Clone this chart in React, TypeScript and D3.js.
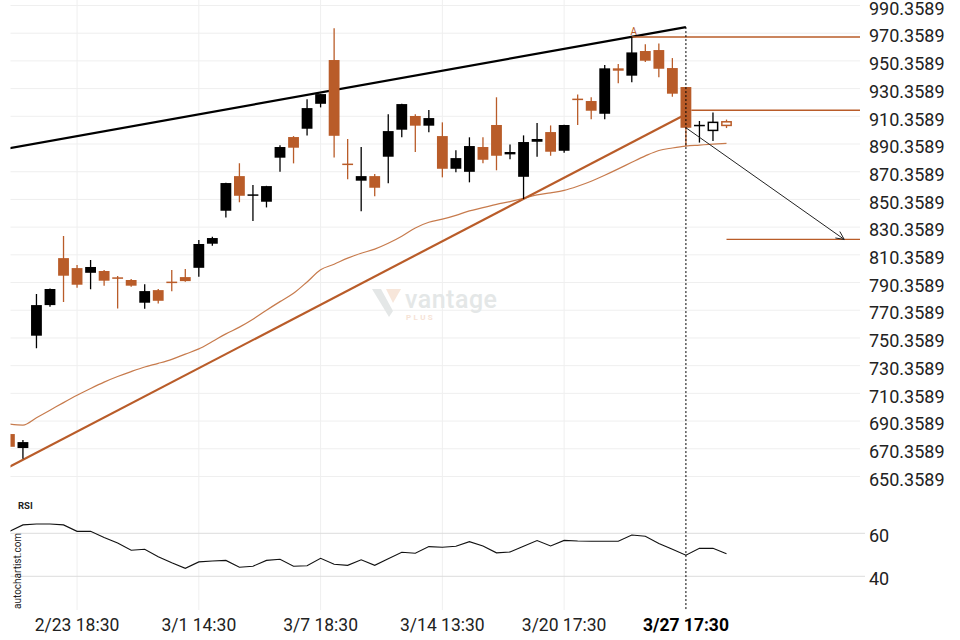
import * as d3 from "d3";

const TIME_LABELS = ["2/23 18:30", "3/1 14:30", "3/7 18:30", "3/14 13:30", "3/20 17:30", "3/27 17:30"];
const TIME_LABEL_INDEX = [5, 14, 23, 32, 41, 50];
const RSI_TICKS = [60, 40];

const OPEN = [
  681.0, 670.9, 752.0, 774.1, 808.0, 800.8, 797.4, 798.7, 793.8, 792.2,
  775.8, 784.9, 790.7, 794.3, 801.0, 818.4, 842.2, 867.2, 853.3, 848.7,
  880.5, 895.4, 901.4, 919.4, 951.0, 875.9, 863.9, 867.2, 881.2, 900.7,
  910.6, 903.6, 896.1, 872.5, 870.3, 888.2, 904.1, 882.9, 866.7, 892.0,
  899.0, 885.5, 922.8, 921.4, 912.2, 945.0, 939.7, 957.5, 958.2, 945.2,
  931.5, 903.5, 900.2, 906.4,
];
const HIGH = [
  681.5, 676.7, 782.1, 786.0, 823.9, 803.0, 806.6, 799.4, 795.1, 792.9,
  789.1, 785.7, 799.4, 800.1, 821.0, 823.4, 862.4, 876.4, 860.7, 860.2,
  889.4, 896.1, 922.6, 926.6, 973.9, 894.0, 888.2, 868.7, 911.8, 919.4,
  911.8, 914.9, 906.0, 885.8, 895.2, 895.2, 924.1, 890.1, 896.6, 905.5,
  903.8, 904.3, 926.2, 924.1, 947.4, 948.1, 967.6, 962.3, 963.0, 952.4,
  931.6, 907.0, 913.2, 908.0,
];
const LOW = [
  671.5, 663.2, 742.9, 772.9, 776.3, 786.6, 785.5, 788.1, 771.7, 787.3,
  771.4, 775.3, 784.0, 790.9, 794.5, 816.9, 837.4, 848.3, 834.8, 844.6,
  870.3, 876.4, 896.6, 916.8, 880.7, 864.9, 841.8, 852.6, 862.0, 895.2,
  884.6, 898.8, 866.3, 869.9, 862.7, 876.4, 871.4, 879.3, 850.6, 881.2,
  881.9, 884.1, 904.1, 908.2, 908.2, 934.2, 934.9, 949.5, 938.5, 924.5,
  888.9, 891.4, 892.5, 901.9,
];
const CLOSE = [
  671.8, 675.2, 774.1, 785.7, 795.3, 788.8, 801.6, 791.7, 793.4, 788.1,
  784.2, 777.2, 790.3, 791.4, 818.2, 822.5, 862.2, 853.0, 853.7, 860.0,
  888.2, 887.7, 916.3, 926.4, 896.3, 875.5, 867.2, 858.8, 899.7, 919.2,
  903.6, 909.1, 872.5, 880.2, 888.9, 879.0, 881.9, 884.6, 891.8, 894.0,
  884.8, 904.1, 922.4, 914.4, 945.0, 943.3, 956.5, 950.5, 944.7, 926.7,
  902.1, 903.9, 906.0, 903.8,
];
const MA = [
  688.2, 687.5, 692.8, 698.2, 703.7, 709.0, 713.9, 718.5, 722.5, 726.1,
  729.4, 732.0, 734.9, 738.7, 742.5, 747.8, 753.3, 758.2, 763.9, 770.4,
  776.6, 782.6, 790.8, 799.6, 803.6, 808.0, 811.5, 814.5, 818.7, 823.8,
  829.8, 833.9, 836.1, 838.9, 842.1, 844.4, 846.8, 848.8, 851.1, 853.6,
  855.1, 856.9, 859.9, 863.5, 867.8, 872.4, 877.2, 881.8, 885.7, 887.5,
  888.9, 889.6, 890.3, 890.9,
];
const RSI = [
  60.9, 63.9, 64.3, 64.3, 63.9, 60.9, 60.9, 58.1, 55.5, 52.1,
  52.6, 49.1, 46.3, 43.7, 46.7, 47.1, 47.4, 44.2, 44.7, 47.4,
  47.9, 44.7, 44.9, 48.4, 45.6, 45.1, 47.7, 45.1, 48.2, 51.2,
  50.7, 53.8, 53.5, 54.0, 56.1, 54.1, 50.9, 51.3, 54.0, 56.6,
  54.1, 56.7, 56.4, 56.3, 56.3, 56.3, 59.2, 58.6, 55.3, 52.6,
  49.8, 53.0, 53.0, 50.5,
];

// trend lines as [index, price]
const RESISTANCE: [number, number][] = [[0, 887.3], [50, 974.8]];
const SUPPORT: [number, number][] = [[0, 657.3], [50, 911.8]];
// horizontal levels: price and first index
const LEVEL_PRICE = [967.6, 914.7, 821.5];
const LEVEL_FROM = [46, 50.4, 53];
const FORECAST: [number, number][] = [[50, 902.1], [61.7, 821.5]];
const PATTERN_END = 50;
const HOLLOW_FROM = 52;

const ORANGE = "#b95c29";
const FONT = "Roboto, sans-serif";

export default function App() {
  const x = d3.scaleLinear().domain([0, 53]).range([9.4, 726.5]);
  const y = d3.scaleLinear().domain([650.3589, 990.3589]).range([476.5, 5.5]);
  const yr = d3.scaleLinear().domain([40, 60]).range([576.3, 533.3]);
  const bw = (x(1) - x(0)) * 0.8;
  const left = 10.5;
  const right = 860;

  const priceTicks = d3.range(18).map((i) => 650.3589 + i * 20);

  const maLine = d3
    .line<number>()
    .x((_, i) => x(i))
    .y((d) => y(d))
    .curve(d3.curveMonotoneX);
  const rsiLine = d3
    .line<number>()
    .x((_, i) => x(i))
    .y((d) => yr(d));
  const trend = d3
    .line<[number, number]>()
    .x((d) => x(d[0]))
    .y((d) => y(d[1]));

  const [a0, a1] = FORECAST;
  const ax0 = x(a0[0]), ay0 = y(a0[1]), ax1 = x(a1[0]), ay1 = y(a1[1]);
  const ang = Math.atan2(ay1 - ay0, ax1 - ax0);
  const head = 9;
  const hA = ang + Math.PI - 0.45;
  const hB = ang + Math.PI + 0.45;

  return (
    <svg
      width={960}
      height={640}
      style={{ position: "absolute", left: 0, top: 0, background: "#fff" }}
      fontFamily={FONT}
    >
      <defs>
        <clipPath id="plot">
          <rect x={left} y={0} width={right - left} height={490} />
        </clipPath>
        <clipPath id="rsi">
          <rect x={left} y={490} width={right - left} height={125} />
        </clipPath>
      </defs>

      {/* vertical grid */}
      {TIME_LABEL_INDEX.slice(0, -1).map((i) => (
        <line key={i} x1={x(i)} x2={x(i)} y1={0} y2={610} stroke="#efefef" strokeWidth={1} />
      ))}
      {/* horizontal grid */}
      {priceTicks.map((t) => (
        <line key={t} x1={left} x2={right} y1={y(t)} y2={y(t)} stroke="#efefef" strokeWidth={1} />
      ))}
      {RSI_TICKS.map((t) => (
        <line key={t} x1={left} x2={865} y1={yr(t)} y2={yr(t)} stroke="#dcdcdc" strokeWidth={1} />
      ))}

      {/* watermark */}
      <g>
        <polygon points="372,289 381,289 393,311 389,317" fill="#e4e7e7" />
        <polygon points="386,289 401,289 393,303" fill="#f7e6da" />
        <text x={405} y={308} fontSize={25} fontWeight={500} fill="#e4e7e7" letterSpacing={0.5}>
          vantage
        </text>
        <text x={406} y={320} fontSize={8} fontWeight={700} fill="#f6e3d6" letterSpacing={2.4}>
          PLUS
        </text>
      </g>

      <g clipPath="url(#plot)">
        <path d={maLine(MA) ?? ""} fill="none" stroke="#c77b4d" strokeWidth={1.2} />
        <path d={trend(SUPPORT) ?? ""} fill="none" stroke={ORANGE} strokeWidth={2.2} />
        <path d={trend(RESISTANCE) ?? ""} fill="none" stroke="#000" strokeWidth={2.2} />

        {LEVEL_PRICE.map((p, i) => (
          <line key={p} x1={x(LEVEL_FROM[i])} x2={right} y1={y(p)} y2={y(p)} stroke={ORANGE} strokeWidth={1.4} />
        ))}

        {OPEN.map((o, i) => {
          const c = CLOSE[i];
          const up = c >= o;
          const col = up ? "#000" : ORANGE;
          const cx = x(i);
          const top = y(Math.max(o, c));
          const bot = y(Math.min(o, c));
          const h = Math.max(bot - top, 1.5);
          const hollow = i >= HOLLOW_FROM;
          return (
            <g key={i}>
              <line x1={cx} x2={cx} y1={y(HIGH[i])} y2={y(LOW[i])} stroke={col} strokeWidth={1.3} />
              {hollow ? (
                <rect x={cx - bw / 2 + 0.75} y={top} width={bw - 1.5} height={h} fill="#fff" stroke={col} strokeWidth={1.5} />
              ) : (
                <rect x={cx - bw / 2} y={(top + bot) / 2 - h / 2} width={bw} height={h} fill={col} />
              )}
            </g>
          );
        })}

        {/* forecast arrow */}
        <line x1={ax0} y1={ay0} x2={ax1} y2={ay1} stroke="#222" strokeWidth={1} />
        <line x1={ax1} y1={ay1} x2={ax1 + head * Math.cos(hA)} y2={ay1 + head * Math.sin(hA)} stroke="#222" strokeWidth={1} />
        <line x1={ax1} y1={ay1} x2={ax1 + head * Math.cos(hB)} y2={ay1 + head * Math.sin(hB)} stroke="#222" strokeWidth={1} />

        <text x={x(46) + 2} y={y(HIGH[46]) - 2.5} fontSize={10} fill={ORANGE} textAnchor="middle">
          A
        </text>
      </g>

      <g clipPath="url(#rsi)">
        <path d={rsiLine(RSI) ?? ""} fill="none" stroke="#111" strokeWidth={1.1} />
      </g>

      {/* pattern end marker */}
      <line
        x1={x(PATTERN_END)}
        x2={x(PATTERN_END)}
        y1={y(RESISTANCE[1][1])}
        y2={610}
        stroke="#000"
        strokeWidth={1}
        strokeDasharray="2,2"
      />

      {/* price axis */}
      {priceTicks.map((t) => (
        <text key={t} x={869} y={y(t) + 9.2} fontSize={18} fill="#222">
          {t.toFixed(4)}
        </text>
      ))}
      {RSI_TICKS.map((t) => (
        <text key={t} x={869} y={yr(t) + 8.8} fontSize={18} fill="#222">
          {t}
        </text>
      ))}

      {/* time axis */}
      {TIME_LABELS.map((l, i) => (
        <text
          key={l}
          x={x(TIME_LABEL_INDEX[i])}
          y={630.5}
          fontSize={17.5}
          textAnchor="middle"
          fill={i === TIME_LABELS.length - 1 ? "#000" : "#222"}
          fontWeight={i === TIME_LABELS.length - 1 ? 700 : 400}
        >
          {l}
        </text>
      ))}

      <text x={18} y={508.5} fontSize={9.5} fontWeight={700} fill="#222">
        RSI
      </text>
      <text transform="translate(20.5,609) rotate(-90)" fontSize={10} fill="#222">
        autochartist.com
      </text>
    </svg>
  );
}
